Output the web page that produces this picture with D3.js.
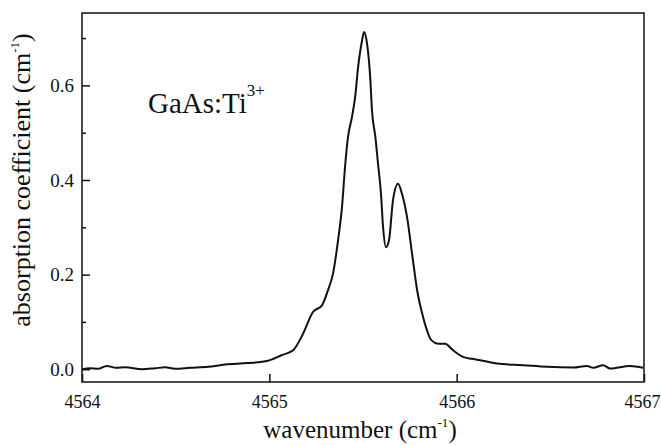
<!DOCTYPE html>
<html>
<head>
<meta charset="utf-8">
<script src="https://cdn.jsdelivr.net/npm/d3@7"></script>
<style>
  html, body { margin: 0; padding: 0; background: #fff; }
  svg { display: block; }
  svg text { font-family: "Liberation Serif", "Times New Roman", serif !important; fill: #111; }
</style>
</head>
<body>
<svg id="chart" width="661" height="445"></svg>
<script>
// Absorption spectrum of GaAs:Ti3+ near 4565.5 cm^-1
const wavenumber = [
  4564.000, 4564.043, 4564.085, 4564.133, 4564.182, 4564.230, 4564.320, 4564.390,
  4564.443, 4564.497, 4564.577, 4564.673, 4564.763, 4564.886, 4564.993, 4565.068,
  4565.127, 4565.180, 4565.233, 4565.281, 4565.313, 4565.340, 4565.367, 4565.388,
  4565.404, 4565.420, 4565.441, 4565.458, 4565.474, 4565.495, 4565.506, 4565.521,
  4565.538, 4565.548, 4565.566, 4565.580, 4565.596, 4565.607, 4565.623, 4565.639,
  4565.660, 4565.687, 4565.708, 4565.735, 4565.762, 4565.789, 4565.821, 4565.866,
  4565.901, 4565.938, 4565.981, 4566.034, 4566.082, 4566.125, 4566.216, 4566.355,
  4566.483, 4566.622, 4566.696, 4566.729, 4566.782, 4566.819, 4566.926, 4566.995
];
const absorption = [
  0.000, 0.002, 0.001, 0.007, 0.003, 0.004, 0.000, 0.002,
  0.004, 0.001, 0.003, 0.005, 0.010, 0.013, 0.018, 0.030,
  0.040, 0.075, 0.121, 0.135, 0.167, 0.202, 0.273, 0.343,
  0.427, 0.491, 0.533, 0.575, 0.639, 0.695, 0.713, 0.690,
  0.620, 0.547, 0.491, 0.435, 0.371, 0.301, 0.258, 0.273,
  0.357, 0.392, 0.371, 0.322, 0.244, 0.167, 0.110, 0.061,
  0.054, 0.054, 0.040, 0.026, 0.022, 0.019, 0.012, 0.0085,
  0.005, 0.0035, 0.007, 0.003, 0.0085, 0.0015, 0.007, 0.003
];
const xTicks = [4564, 4565, 4566, 4567];
const yTicks = [0.0, 0.2, 0.4, 0.6];
const yMinorTicks = [0.1, 0.3, 0.5, 0.7];

const svg = d3.select("#chart");
const W = 661;
const serif = '"Liberation Serif", "Times New Roman", serif';
const plotL = 82, plotR = 644, plotT = 13, plotB = 382;

const x = d3.scaleLinear().domain([4564, 4567]).range([plotL, plotR]);
const y = d3.scaleLinear().domain([-0.027, 0.753]).range([plotB, plotT]);

// Frame
svg.append("rect")
  .attr("x", plotL).attr("y", plotT)
  .attr("width", plotR - plotL).attr("height", plotB - plotT)
  .attr("fill", "none").attr("stroke", "#111").attr("stroke-width", 1.5);

// Bottom axis: inward major ticks
const xAxis = d3.axisBottom(x).tickValues(xTicks).tickFormat(d3.format("d"))
  .tickSizeInner(-8).tickSizeOuter(0).tickPadding(13);
const gx = svg.append("g").attr("transform", `translate(0,${plotB})`).call(xAxis)
  .attr("font-family", null).style("font-family", serif);
gx.select(".domain").remove();
gx.selectAll(".tick line").attr("stroke", "#111").attr("stroke-width", 1.5);
gx.selectAll(".tick text").style("font-family", serif).attr("font-size", 18).attr("fill", "#111");
// keep the last label inside the page edge
gx.selectAll(".tick text").filter(d => d === xTicks[xTicks.length - 1])
  .attr("text-anchor", "end").attr("x", W - 1 - x(xTicks[xTicks.length - 1]));

// Left axis: inward major and minor ticks
const yAxis = d3.axisLeft(y).tickValues(yTicks).tickFormat(d3.format(".1f"))
  .tickSizeInner(-8).tickSizeOuter(0).tickPadding(8);
const gy = svg.append("g").attr("transform", `translate(${plotL},0)`).call(yAxis)
  .attr("font-family", null).style("font-family", serif);
gy.select(".domain").remove();
gy.selectAll(".tick line").attr("stroke", "#111").attr("stroke-width", 1.5);
gy.selectAll(".tick text").style("font-family", serif).attr("font-size", 19).attr("fill", "#111");

const yMinor = d3.axisLeft(y).tickValues(yMinorTicks).tickFormat("")
  .tickSizeInner(-4).tickSizeOuter(0);
const gym = svg.append("g").attr("transform", `translate(${plotL},0)`).call(yMinor);
gym.select(".domain").remove();
gym.selectAll(".tick line").attr("stroke", "#111").attr("stroke-width", 1.5);

// Spectrum
const pts = wavenumber.map((w, i) => [w, absorption[i]]);
const line = d3.line().x(d => x(d[0])).y(d => y(d[1])).curve(d3.curveMonotoneX);
svg.append("path").datum(pts)
  .attr("d", line)
  .attr("fill", "none").attr("stroke", "#111").attr("stroke-width", 2)
  .attr("stroke-linejoin", "round");

// Axis titles
const xt = svg.append("text")
  .attr("x", 360).attr("y", 438)
  .attr("text-anchor", "middle").attr("font-size", 25);
xt.append("tspan").text("wavenumber  (cm");
xt.append("tspan").attr("font-size", 13).attr("dy", -11).text("-1");
xt.append("tspan").attr("dy", 11).text(")");

const yt = svg.append("text")
  .attr("transform", "translate(30,180) rotate(-90)")
  .attr("text-anchor", "middle").attr("font-size", 26);
yt.append("tspan").text("absorption coefficient  (cm");
yt.append("tspan").attr("font-size", 13).attr("dy", -11).text("-1");
yt.append("tspan").attr("dy", 11).text(")");

// Sample label
const lab = svg.append("text")
  .attr("x", 148).attr("y", 113).attr("font-size", 29);
lab.append("tspan").text("GaAs:Ti");
lab.append("tspan").attr("font-size", 17).attr("dy", -17).text("3+");
</script>
</body>
</html>
